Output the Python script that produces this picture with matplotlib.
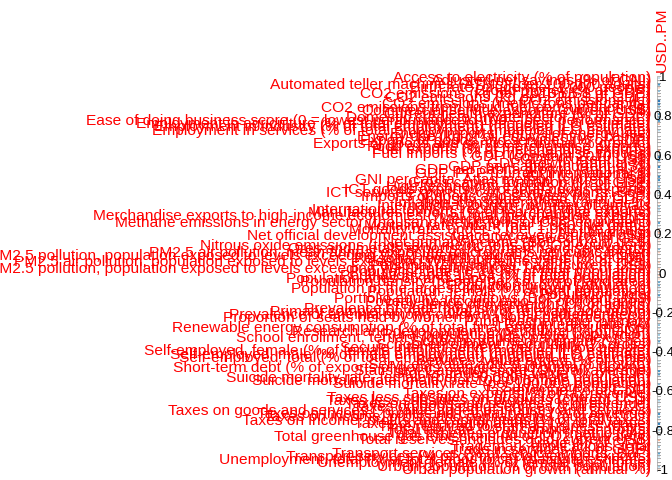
import numpy as np
import matplotlib
matplotlib.use('Agg')
import matplotlib.pyplot as plt
from matplotlib import transforms
from matplotlib.patches import Rectangle

plt.rcParams['font.family'] = ['Liberation Sans', 'DejaVu Sans']

# column variable and row indicators (correlation with USD..PM)
col_name = 'USD..PM'
labels = [
    'Access to electricity (% of population)',
    'Adjusted net savings (% of GNI)',
    'Automated teller machines (ATMs) (per 100,000 adults)',
    'Birth rate, crude (per 1,000 people)',
    'Broad money (% of GDP)',
    'CO2 emissions (kg per 2010 US$ of GDP)',
    'CO2 emissions (kg per PPP $ of GDP)',
    'CO2 emissions (kt)',
    'CO2 emissions (metric tons per capita)',
    'CO2 emissions from liquid fuel consumption (kt)',
    'Commercial service exports (current US$)',
    'Current health expenditure (% of GDP)',
    'Domestic credit to private sector (% of GDP)',
    'Ease of doing business score (0 = lowest performance to 100 = best performance)',
    'Employment in agriculture (% of total employment) (modeled ILO estimate)',
    'Employment in industry (% of total employment) (modeled ILO estimate)',
    'Employment in services (% of total employment) (modeled ILO estimate)',
    'Energy imports, net (% of energy use)',
    'Energy use (kg of oil equivalent per capita)',
    'Exports of goods and services (% of GDP)',
    'Exports of goods and services (annual % growth)',
    'Food exports (% of merchandise exports)',
    'Fuel exports (% of merchandise exports)',
    'Fuel imports (% of merchandise imports)',
    'GDP (constant 2010 US$)',
    'GDP (current US$)',
    'GDP growth (annual %)',
    'GDP per capita (current US$)',
    'GDP per capita growth (annual %)',
    'GDP, PPP (current international $)',
    'GNI (current US$)',
    'GNI per capita, Atlas method (current US$)',
    'Gross capital formation (% of GDP)',
    'High-technology exports (current US$)',
    'ICT goods exports (% of total goods exports)',
    'ICT service exports (% of service exports, BoP)',
    'Imports of goods and services (% of GDP)',
    'Industry, value added (% of GDP)',
    'Inflation, consumer prices (annual %)',
    'International tourism, number of arrivals',
    'International tourism, receipts (% of total exports)',
    'Manufactures exports (% of merchandise exports)',
    'Merchandise exports to high-income economies (% of total merchandise exports)',
    'Merchandise trade (% of GDP)',
    'Methane emissions in energy sector (thousand metric tons of CO2 equivalent)',
    'Mortality rate, infant (per 1,000 live births)',
    'Mortality rate, under-5 (per 1,000 live births)',
    'Net migration',
    'Net official development assistance received (current US$)',
    'Net ODA received (% of GNI)',
    'Net primary income (BoP, current US$)',
    'Nitrous oxide emissions (thousand metric tons of CO2 equivalent)',
    'Ores and metals exports (% of merchandise exports)',
    'PM2.5 air pollution, mean annual exposure (micrograms per cubic meter)',
    'PM2.5 pollution, population exposed to levels exceeding WHO Interim Target-2 value (% of total)',
    'Personal remittances, received (% of GDP)',
    'PM2.5 air pollution, population exposed to levels exceeding WHO guideline value (% of total)',
    'Personal remittances, paid (current US$)',
    'PM2.5 pollution, population exposed to levels exceeding WHO Interim Target-1 value (% of total)',
    'Population ages 0-14 (% of total population)',
    'Population ages 15-64 (% of total population)',
    'Population ages 65 and above (% of total population)',
    'Population density (people per sq. km of land area)',
    'Population growth (annual %)',
    'Population in the largest city (% of urban population)',
    'Population, female (% of total population)',
    'Population, total',
    'Portfolio equity, net inflows (BoP, current US$)',
    'Poverty headcount ratio (% of population)',
    'Prevalence of overweight (% of adults)',
    'Prevalence of undernourishment (% of population)',
    'Primary completion rate, total (% of relevant age group)',
    'Prevalence of anemia among children (% of children under 5)',
    'Proportion of seats held by women in national parliaments (%)',
    'Pupil-teacher ratio, primary',
    'Real interest rate (%)',
    'Renewable energy consumption (% of total final energy consumption)',
    'Research and development expenditure (% of GDP)',
    'Rural population (% of total population)',
    'School enrollment, tertiary (gross), gender parity index (GPI)',
    'School enrollment, primary (% net)',
    'School enrollment, secondary (% gross)',
    'Secure Internet servers (per 1 million people)',
    'Self-employed, female (% of female employment) (modeled ILO estimate)',
    'Self-employed, male (% of male employment) (modeled ILO estimate)',
    'Self-employed, total (% of total employment) (modeled ILO estimate)',
    'Services, value added (% of GDP)',
    'Services, value added (annual % growth)',
    'Short-term debt (% of exports of goods, services and primary income)',
    'Statistical Capacity score (Overall average)',
    'Stocks traded, total value (% of GDP)',
    'Suicide mortality rate, female (per 100,000 female population)',
    'Suicide mortality rate, male (per 100,000 male population)',
    'Suicide mortality rate (per 100,000 population)',
    'Surface area (sq. km)',
    'Tax revenue (% of GDP)',
    'Taxes on exports (% of tax revenue)',
    'Taxes less subsidies on products (current US$)',
    'Taxes less subsidies on products (current LCU)',
    'Taxes on goods and services (% of revenue)',
    'Taxes on goods and services (current LCU)',
    'Taxes on goods and services (% value added of industry and services)',
    'Taxes on income, profits and capital gains (% of revenue)',
    'Taxes on income, profits and capital gains (current LCU)',
    'Taxes on income, profits and capital gains (% of total taxes)',
    'Taxes on international trade (% of revenue)',
    'Time required to start a business (days)',
    'Total tax rate (% of commercial profits)',
    'Total fisheries production (metric tons)',
    'Total greenhouse gas emissions (kt of CO2 equivalent)',
    'Total reserves (includes gold, current US$)',
    'Trade (% of GDP)',
    'Trademark applications, total',
    'Trade in services (% of GDP)',
    'Transport services (% of service imports, BoP)',
    'Transport services (% of commercial service exports)',
    'Unemployment, total (% of total labor force) (national estimate)',
    'Unemployment, female (% of female labor force)',
    'Urban population (% of total population)',
    'Urban population growth (annual %)',
]

corr = [
    0.35, 0.12, 0.58, -0.31, 0.44, -0.22, 0.18, 0.72, 0.65, 0.41,
    0.27, 0.53, 0.49, 0.61, -0.38, 0.15, 0.33, 0.08, 0.21, -0.12,
    0.05, -0.18, -0.45, 0.23, 0.67, 0.64, -0.09, 0.66, -0.07, 0.29,
    0.63, 0.62, 0.19, 0.47, 0.39, 0.31, 0.11, 0.14, -0.26, 0.42,
    0.37, 0.24, -0.15, 0.02, 0.57, 0.28, -0.34, -0.41, 0.06, -0.25,
    -0.19, 0.13, 0.45, -0.29, 0.16, -0.21, -0.33, 0.09, -0.36, -0.27,
    -0.32, -0.28, 0.51, 0.48, 0.26, 0.38, 0.56, 0.04, -0.14, 0.22,
    0.17, -0.24, 0.07, 0.34, -0.23, 0.46, 0.32, 0.25, 0.43, 0.36,
    0.52, 0.03, -0.11, 0.19, -0.16, 0.12, 0.28, 0.31, -0.20, 0.59,
    0.55, 0.14, 0.01, 0.46, 0.26, 0.18, 0.22, 0.09, 0.37, 0.27,
    0.30, -0.08, 0.61, 0.44, -0.17, 0.68, 0.49, 0.35, 0.21, 0.24,
    -0.39, 0.11, 0.42, 0.06, 0.53, 0.33, 0.20, -0.13, 0.40, -0.30,
]

legend_ticks = [1, 0.8, 0.6, 0.4, 0.2, 0, -0.2, -0.4, -0.6, -0.8, -1]

W, H = 672, 480
fig = plt.figure(figsize=(W / 96, H / 96), dpi=96)

N = len(labels)
top, bottom = 78, 470
h = (bottom - top) / (N - 1)

# the single matrix column
ax = fig.add_axes([657 / W, 1 - (bottom + h / 2) / H, 4 / W, (bottom - top + h) / H])
ax.set_xlim(0.5, 1.5)
ax.set_ylim(N + 0.5, 0.5)
ax.axis('off')

rows = np.arange(1, N + 1)
for r in rows:
    ax.add_patch(Rectangle((0.5, r - 0.5), 1, 1, facecolor='white',
                           edgecolor='grey', linewidth=0.4))
vals = np.array(corr)
cell_pt = h * 72 / 96
ax.scatter(np.ones(N), rows, s=(np.sqrt(np.abs(vals)) * cell_pt * 0.9) ** 2,
           c=vals, cmap='RdBu', vmin=-1, vmax=1, linewidths=0, clip_on=False)

# row labels, right aligned against the column
trans = transforms.blended_transform_factory(fig.transFigure, ax.transData)
for r, lab in zip(rows, labels):
    ax.text(651 / W, r, lab, transform=trans, ha='right', va='center',
            color='red', fontsize=11.6, clip_on=False)

# column label
fig.text(662 / W, 1 - 72 / H, col_name, rotation=90, ha='center', va='bottom',
         color='red', fontsize=11.6)

# colour legend labels
ax2 = fig.add_axes([655 / W, 1 - 471 / H, 17 / W, (471 - 78) / H])
ax2.set_ylim(-1, 1)
ax2.set_xlim(0, 1)
ax2.axis('off')
for v in legend_ticks:
    ax2.text(0.45, v, f'{v:g}', ha='center', va='center', fontsize=10,
             color='black', clip_on=False)

fig.savefig('out.png', dpi=96)
